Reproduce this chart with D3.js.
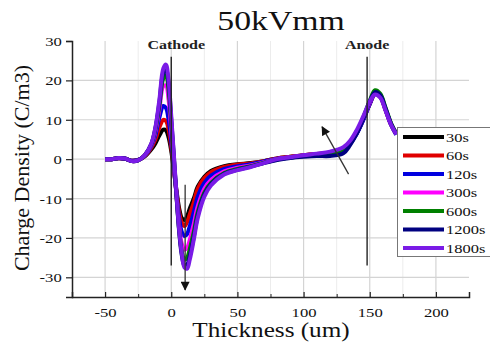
<!DOCTYPE html>
<html><head><meta charset="utf-8">
<script src="https://cdn.jsdelivr.net/npm/d3@7"></script>
<style>body{margin:0;background:#fff}svg{display:block}text{font-family:"Liberation Serif","Times New Roman",serif}</style>
</head><body><svg id="c" width="490" height="345"></svg>
<script>
const thickness = [-50,-45,-40,-35,-30,-25,-20,-15,-12,-9,-6,-4,-2,0,2,4,6,8,10,12,14,17,20,25,30,40,50,60,70,80,90,100,110,120,130,135,140,145,150,154,158,162,166,170];
const s30   = [0,0,0.2,0.1,-0.4,-0.2,0.7,2.5,4,6,7.5,7.3,5.5,2,-3,-8,-12.5,-15,-15.5,-14.5,-12.5,-10,-7,-4.5,-3,-1.8,-1.3,-1,-0.5,0.2,0.6,1,1.3,1.5,2.3,4,6.5,10,14,16.5,15.8,12.5,9,6.5];
const s60   = [0,0,0.2,0.1,-0.4,-0.2,0.8,3,5,8,10,9.7,7.5,3,-2.5,-8.5,-13.5,-16.2,-17,-16,-14,-11,-7.5,-4.8,-3.3,-2,-1.4,-1.1,-0.5,0.2,0.6,1,1.3,1.5,2.3,4,6.5,10,14.2,16.6,15.8,12.4,8.8,6.3];
const s120  = [0,0,0.2,0.1,-0.4,-0.2,0.9,3.3,6,10.5,13.5,13,10,4.5,-2,-9,-15,-18.5,-19.5,-19,-17,-13.5,-9.5,-6,-4.2,-2.5,-1.8,-1.3,-0.6,0.1,0.5,0.9,1.2,1.3,2,3.8,6.3,9.8,14,16.6,15.9,12.5,8.8,6.2];
const s300  = [0,0,0.3,0.2,-0.5,-0.3,1,3.6,7,12.5,18.5,18.7,15,7,-1,-9.5,-17,-21.5,-23,-22.5,-20.5,-16.5,-12,-7.5,-5.3,-3.1,-2.2,-1.6,-0.8,0,0.5,0.9,1.3,1.6,2.5,4.2,6.8,10.3,14.3,16.8,16,12.6,9,6.4];
const s600  = [0,0,0.3,0.2,-0.5,-0.3,1,3.8,7.5,13.5,20.5,21.3,17.5,9,0,-9.5,-18,-23.5,-25.5,-25,-22.8,-18.5,-13.5,-8.5,-6,-3.5,-2.5,-1.8,-0.9,-0.1,0.4,0.8,1,1.2,2,3.9,6.7,10.5,14.8,17.5,16.6,13,9.2,6.5];
const s1200 = [0,0,0.3,0.2,-0.5,-0.3,1,3.9,7.8,14.3,22,22.8,19,10,0.5,-9.5,-18.5,-24.5,-27,-26.8,-24.5,-19.8,-14.3,-9,-6.3,-3.7,-2.7,-1.9,-1,-0.2,0.3,0.6,0.8,0.8,1.5,3.5,6.4,10.2,14.6,17,16.2,12.8,9,6.4];
const s1800 = [0,0,0.3,0.2,-0.5,-0.3,1,4,8,15,23,24,20,11,1,-9,-18,-24,-27.5,-27.8,-25.5,-20.5,-15,-9.5,-6.7,-3.9,-2.8,-2,-1,0,0.5,1,1.4,1.9,3,4.6,7.3,10.8,14.6,16.4,15.6,12.3,8.8,6.3];
const seriesNames = ["30s","60s","120s","300s","600s","1200s","1800s"];
const seriesColors = ["#000000","#e00000","#0000e0","#ff00ff","#008000","#000080","#7a1be6"];
const seriesData = [s30,s60,s120,s300,s600,s1200,s1800];
const xTicks = [-50,0,50,100,150,200];
const xMinor = [-25,25,75,125,175];
const yTicks = [-30,-20,-10,0,10,20,30];
const title = "50kVmm", xTitle = "Thickness (um)", yTitle = "Charge Density (C/m3)";
const electrodes = [{name:"Cathode",x:0},{name:"Anode",x:148}];

const svg = d3.select("#c");
const x = d3.scaleLinear().domain([-75,225]).range([72,469]);
const y = d3.scaleLinear().domain([-35,30]).range([297,41]);
const SX = 1.28;
const fmt = d => String(d); // plain hyphen minus

// grid
const g = svg.append("g");
g.selectAll(".gm").data(xMinor).join("line").attr("x1",d=>x(d)).attr("x2",d=>x(d)).attr("y1",y(30)).attr("y2",y(-35)).attr("stroke","#ececec").attr("stroke-width",1);
g.selectAll(".gx").data(xTicks).join("line").attr("x1",d=>x(d)).attr("x2",d=>x(d)).attr("y1",y(30)).attr("y2",y(-35)).attr("stroke","#d4d4d4").attr("stroke-width",1.2);
g.selectAll(".gy").data(yTicks.filter(d=>d<30)).join("line").attr("x1",x(-75)).attr("x2",x(225)).attr("y1",d=>y(d)).attr("y2",d=>y(d)).attr("stroke","#d4d4d4").attr("stroke-width",1.2);

// axes
const ax = svg.append("g").attr("transform",`translate(0,${y(-35)})`)
  .call(d3.axisBottom(x).tickValues(xTicks).tickSize(-5).tickPadding(0).tickFormat(fmt));
ax.selectAll("text").attr("y",20).attr("dy",0).attr("x",0).attr("font-size",13).attr("fill","#111").attr("transform",`scale(${SX},1)`);
svg.append("g").attr("transform",`translate(0,${y(-35)})`).call(d3.axisBottom(x).tickValues(xMinor).tickSize(-3).tickFormat(""))
  .call(s=>s.select(".domain").remove()).selectAll("line").attr("stroke","#222");
const ay = svg.append("g").attr("transform",`translate(${x(-75)},0)`)
  .call(d3.axisLeft(y).tickValues(yTicks).tickSize(6).tickPadding(0).tickFormat(fmt));
ay.selectAll("text").attr("x",-8).attr("dy","0.35em").attr("font-size",13).attr("fill","#111").attr("transform",`scale(${SX},1)`);
[ax,ay].forEach(a=>{
  a.attr("font-family",null).attr("font-size",null);
  a.select(".domain").attr("stroke","#222").attr("stroke-width",1.5);
  a.selectAll("line").attr("stroke","#222").attr("stroke-width",1.2);
});

// curves
const line = d3.line().x(d=>x(d[0])).y(d=>y(d[1])).curve(d3.curveCatmullRom.alpha(0.5));
seriesData.forEach((vals,i)=>{
  svg.append("path").datum(thickness.map((t,j)=>[t,vals[j]])).attr("d",line)
    .attr("fill","none").attr("stroke",seriesColors[i]).attr("stroke-width",4).attr("stroke-linejoin","round");
});

// electrodes
electrodes.forEach(e=>{
  svg.append("line").attr("x1",x(e.x)).attr("x2",x(e.x)).attr("y1",y(26)).attr("y2",y(-27)).attr("stroke","#222").attr("stroke-width",1.4);
  svg.append("text").attr("transform",`translate(${x(e.x)+(e.name==="Cathode"?5:0)},49) scale(${SX},1)`).attr("text-anchor","middle")
    .attr("font-size",12.5).attr("font-weight","bold").attr("fill","#222").text(e.name);
});

// arrows
svg.append("defs").append("marker").attr("id","ah").attr("viewBox","0 0 10 10").attr("refX",9).attr("refY",5)
  .attr("markerWidth",10).attr("markerHeight",9).attr("markerUnits","userSpaceOnUse").attr("orient","auto")
  .append("path").attr("d","M0,0L10,5L0,10z").attr("fill","#111");
svg.append("line").attr("x1",x(10.5)).attr("y1",y(-6.5)).attr("x2",x(10.5)).attr("y2",y(-33.2)).attr("stroke","#333").attr("stroke-width",1.3).attr("marker-end","url(#ah)");
svg.append("line").attr("x1",x(134)).attr("y1",y(-3.8)).attr("x2",x(114)).attr("y2",y(8.2)).attr("stroke","#333").attr("stroke-width",1.3).attr("marker-end","url(#ah)");

// legend
const lg = svg.append("g");
lg.append("rect").attr("x",397.5).attr("y",127.5).attr("width",100).attr("height",129).attr("fill","#fff").attr("stroke","#777").attr("stroke-width",1);
seriesNames.forEach((n,i)=>{
  const yy = 137 + i*18.5;
  lg.append("line").attr("x1",403).attr("x2",444).attr("y1",yy).attr("y2",yy).attr("stroke",seriesColors[i]).attr("stroke-width",4);
  lg.append("text").attr("transform",`translate(446,${yy}) scale(1.22,1)`).attr("dy","0.35em").attr("font-size",13.5).attr("fill","#111").text(n);
});

// titles
svg.append("text").attr("transform",`translate(281,30) scale(1.25,1)`).attr("text-anchor","middle").attr("font-size",27).attr("fill","#111").text(title);
svg.append("text").attr("transform",`translate(271,337) scale(1.26,1)`).attr("text-anchor","middle").attr("font-size",20).attr("fill","#111").text(xTitle);
svg.append("text").attr("transform",`translate(29,168) rotate(-90)`).attr("text-anchor","middle").attr("font-size",22).attr("fill","#111").text(yTitle);
</script></body></html>
